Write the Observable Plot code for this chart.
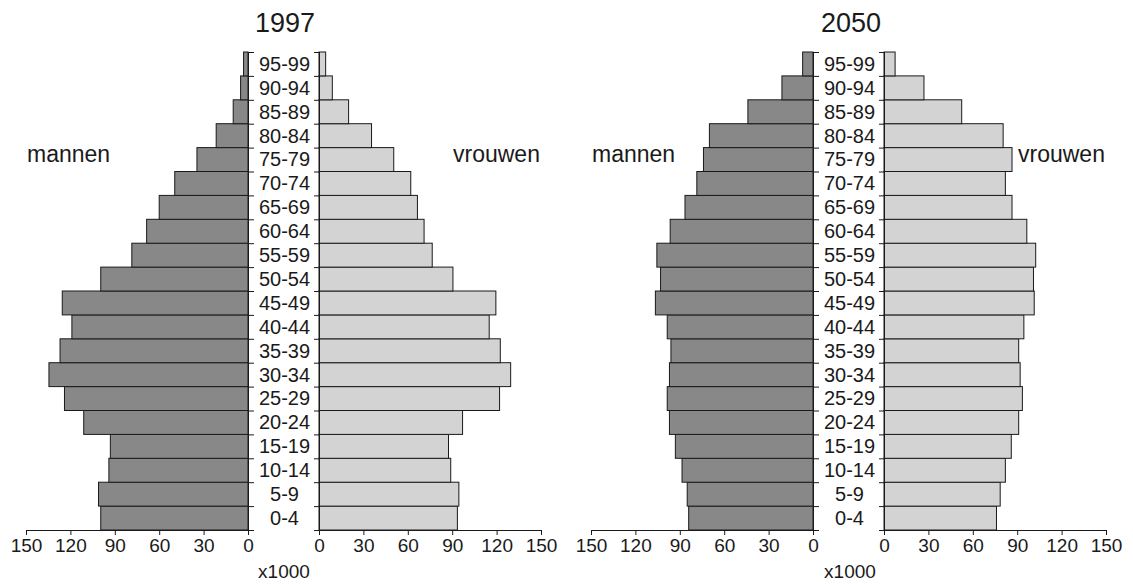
<!DOCTYPE html>
<html><head><meta charset="utf-8">
<script src="https://cdn.jsdelivr.net/npm/d3@7"></script>
<script src="https://cdn.jsdelivr.net/npm/@observablehq/plot@0.6"></script>
<style>
body{margin:0;background:#fff;}
#c{position:relative;width:1133px;height:586px;font-family:"Liberation Sans",Arial,sans-serif;color:#1a1a1a;overflow:hidden;}
.t{position:absolute;white-space:nowrap;line-height:1;}
.ctr{transform:translateX(-50%);}
#c svg{position:absolute;top:0;}
</style></head><body><div id="c"></div>
<script>
const ages = ["0-4","5-9","10-14","15-19","20-24","25-29","30-34","35-39","40-44","45-49","50-54","55-59","60-64","65-69","70-74","75-79","80-84","85-89","90-94","95-99"];
const men1997 = [99.5,101,94,93,111,124,134.5,127,119,125.5,99.5,78.5,68.5,60,49.5,34.5,21.5,10,5,3];
const women1997 = [93.5,94.5,89,87.5,97,122,129.5,122.5,115,119.5,90.5,76.5,71,66.5,62,50.5,35.5,20,9,4.5];
const men2050 = [84,85,88.5,93,97,98.5,97,96,98.5,106.5,103,105.5,96.5,86.5,78.5,74,70,44,21,7];
const women2050 = [76,78.5,82,86,91,93.5,92,91,94.5,101.5,101,102.5,96.5,86.5,82,86.5,80.5,52.5,27,7.5];
const xTicks = [0,30,60,90,120,150];
const years = ["1997","2050"];
const sexLabels = ["mannen","vrouwen"];

const c = document.getElementById("c");
const ink = "#1a1a1a";

function panel(values, isMen, left, mLeft, fill) {
  const data = values.map((v, i) => ({i, v}));
  const marks = [
    Plot.rect(data, {x1: () => 0, x2: "v", y1: "i", y2: d => d.i + 1, fill, stroke: ink, strokeWidth: 1}),
    Plot.ruleY([0], {stroke: ink, strokeWidth: 1}),
    Plot.ruleX([0], {stroke: ink, strokeWidth: 1}),
    Plot.axisX({ticks: xTicks, tickSize: 5, tickPadding: 3, fontSize: 19, label: null}),
    Plot.axisY({anchor: isMen ? "right" : "left", ticks: d3.range(21), tickSize: 5, tickFormat: () => "", label: null})
  ];
  if (isMen) {
    marks.push(Plot.axisY({anchor: "right", ticks: d3.range(20).map(i => i + 0.5), tickSize: 0, tickPadding: 0, dx: 36,
      textAnchor: "middle", fontSize: 20, tickFormat: t => ages[Math.floor(t)], label: null}));
  }
  const svg = Plot.plot({
    width: mLeft + 222 + 12,
    height: 586,
    marginLeft: mLeft,
    marginRight: 12,
    marginTop: 52,
    marginBottom: 56,
    x: {domain: [0, 150], reverse: isMen},
    y: {domain: [0, 20]},
    style: {background: "none", overflow: "visible", fontFamily: "Liberation Sans, Arial, sans-serif", fontSize: "19px", color: ink},
    marks
  });
  svg.style.left = left + "px";
  c.appendChild(svg);
}

panel(men1997, true, 0, 26, "#888888");
panel(women1997, false, 300, 19, "#d3d3d3");
panel(men2050, true, 560, 31, "#888888");
panel(women2050, false, 865, 19, "#d3d3d3");

function txt(s, x, top, size, center) {
  const d = document.createElement("div");
  d.className = "t" + (center ? " ctr" : "");
  d.textContent = s;
  d.style.left = x + "px";
  d.style.top = top + "px";
  d.style.fontSize = size + "px";
  c.appendChild(d);
}
txt(years[0], 285, 10, 27, true);
txt(years[1], 851, 10, 27, true);
txt(sexLabels[0], 27, 143, 23);
txt(sexLabels[1], 453, 143, 23);
txt(sexLabels[0], 592, 143, 23);
txt(sexLabels[1], 1018, 143, 23);
txt("x1000", 284, 562, 19, true);
txt("x1000", 850, 562, 19, true);
</script></body></html>
